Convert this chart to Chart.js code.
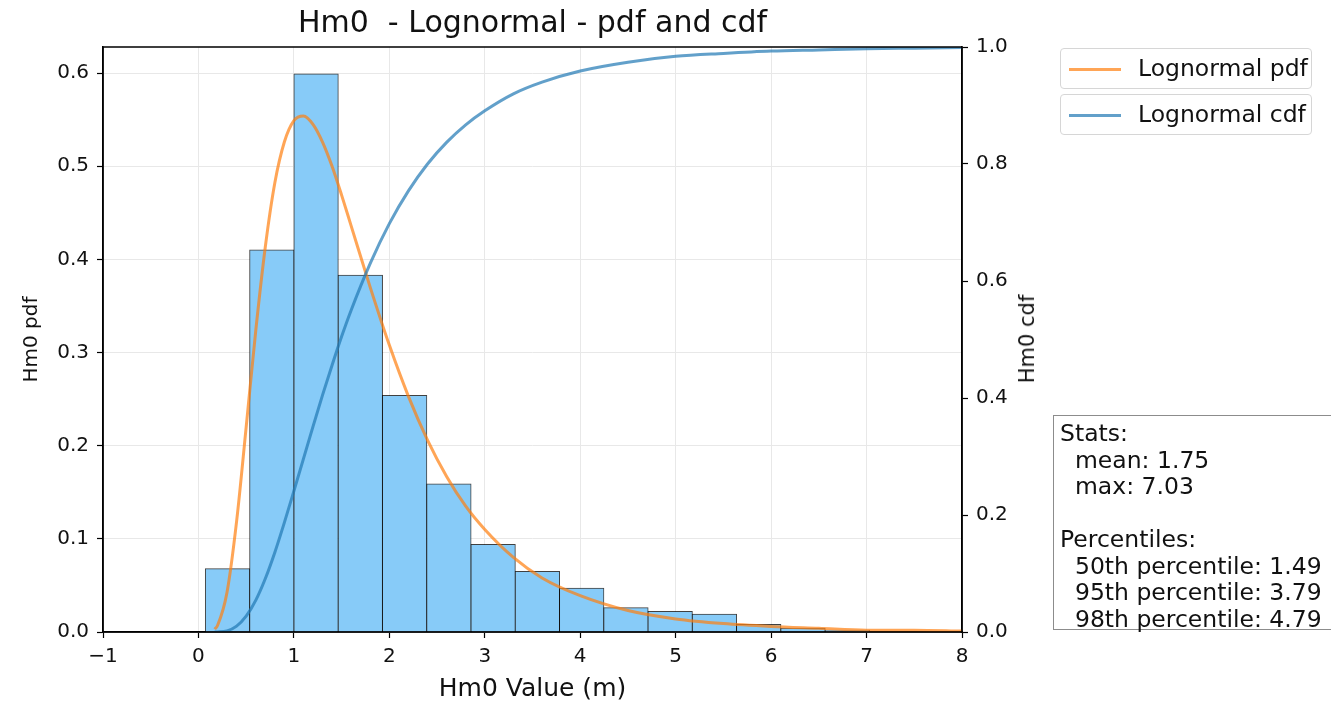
<!DOCTYPE html>
<html lang="en">
<head>
<meta charset="UTF-8">
<title>Hm0 - Lognormal - pdf and cdf</title>
<script src="https://cdn.jsdelivr.net/npm/chart.js"></script>
<style>
    body {
        margin: 0;
        padding: 0;
        background: #fff;
        font-family: "DejaVu Sans", sans-serif;
        overflow: hidden;
    }
    .wrap {
        position: relative;
        width: 1331px;
        height: 705px;
        overflow: hidden;
    }
    .legend-box {
        position: absolute;
        left: 1060px;
        width: 252px;
        height: 41px;
        border: 1px solid #d6d6d6;
        border-radius: 4px;
        background: rgba(255, 255, 255, 0.8);
        box-sizing: border-box;
    }
    .legend-line {
        position: absolute;
        left: 8px;
        top: 19px;
        width: 52px;
        height: 3px;
    }
    .legend-text {
        position: absolute;
        left: 77px;
        top: 4px;
        font-size: 23.5px;
        line-height: 30px;
        color: #111;
        white-space: nowrap;
    }
    .stats {
        position: absolute;
        left: 1053px;
        top: 415px;
        width: 300px;
        height: 215px;
        border: 1.5px solid #8c8c8c;
        box-sizing: border-box;
        padding: 4px 0 0 6px;
        font-size: 23.5px;
        line-height: 26.5px;
        color: #111;
        white-space: pre;
    }
    .y2-title {
        position: absolute;
        left: 1027px;
        top: 339px;
        transform: translate(-50%, -50%) rotate(-90deg);
        font-size: 21px;
        color: #111;
        white-space: nowrap;
    }
</style>
</head>
<body>
<div class="wrap">
    <canvas id="chart" width="1331" height="705"></canvas>

    <div class="legend-box" style="top: 48px;">
        <div class="legend-line" style="background: rgba(255,127,14,0.7);"></div>
        <div class="legend-text">Lognormal pdf</div>
    </div>
    <div class="legend-box" style="top: 94px;">
        <div class="legend-line" style="background: rgba(31,119,180,0.7);"></div>
        <div class="legend-text">Lognormal cdf</div>
    </div>

    <div class="y2-title">Hm0 cdf</div>

    <div class="stats" id="stats"></div>
</div>

<script>
    // histogram (bin edges in m, density values)
    const binEdges = [0.073, 0.537, 1.001, 1.464, 1.928, 2.392, 2.856, 3.319, 3.783, 4.247, 4.711, 5.174, 5.638, 6.102, 6.566, 7.03];
    const binHeights = [0.068, 0.410, 0.599, 0.383, 0.254, 0.159, 0.094, 0.065, 0.047, 0.026, 0.022, 0.019, 0.008, 0.004, 0.002];

    // fitted lognormal curves
    const curveX = [0.17, 0.2, 0.3, 0.4, 0.5, 0.6, 0.7, 0.8, 0.9, 1.0, 1.1, 1.2, 1.3, 1.4, 1.5, 1.6, 1.8, 2.0, 2.2, 2.4, 2.6, 2.8, 3.0, 3.3, 3.6, 4.0, 4.5, 5.0, 5.5, 6.0, 6.5, 7.0, 7.5, 8.0];
    const pdfValues = [0.003, 0.007, 0.043, 0.119, 0.220, 0.323, 0.413, 0.482, 0.526, 0.549, 0.554, 0.545, 0.526, 0.500, 0.469, 0.436, 0.370, 0.308, 0.253, 0.206, 0.167, 0.135, 0.110, 0.080, 0.058, 0.039, 0.023, 0.014, 0.009, 0.006, 0.004, 0.002, 0.002, 0.001];
    const cdfValues = [0.0001, 0.0002, 0.002, 0.010, 0.027, 0.054, 0.091, 0.136, 0.187, 0.241, 0.296, 0.351, 0.405, 0.456, 0.505, 0.550, 0.630, 0.698, 0.754, 0.800, 0.837, 0.867, 0.891, 0.920, 0.940, 0.959, 0.974, 0.984, 0.989, 0.993, 0.995, 0.997, 0.998, 0.999];

    const statsLines = [
        "Stats:",
        "  mean: 1.75",
        "  max: 7.03",
        "",
        "Percentiles:",
        "  50th percentile: 1.49",
        "  95th percentile: 3.79",
        "  98th percentile: 4.79"
    ];

    document.getElementById("stats").textContent = statsLines.join("\n");

    let histData = binHeights.map((h, i) => ({ x: (binEdges[i] + binEdges[i + 1]) / 2, y: h }));
    let pdfData = curveX.map((x, i) => ({ x: x, y: pdfValues[i] }));
    let cdfData = curveX.map((x, i) => ({ x: x, y: cdfValues[i] }));

    // matplotlib style closed frame
    const frame = {
        id: 'frame',
        afterDatasetsDraw(chart) {
            const a = chart.chartArea;
            const ctx = chart.ctx;
            ctx.save();
            ctx.strokeStyle = '#000';
            ctx.lineWidth = 1.5;
            ctx.strokeRect(a.left, a.top, a.right - a.left, a.bottom - a.top);
            ctx.restore();
        }
    };

    const tickFont = { family: 'DejaVu Sans', size: 20 };

    new Chart(document.getElementById('chart'), {
        type: 'bar',
        data: {
            datasets: [
                {
                    type: 'line',
                    label: 'Lognormal cdf',
                    data: cdfData,
                    yAxisID: 'y2',
                    borderColor: 'rgba(31,119,180,0.7)',
                    borderWidth: 3,
                    pointRadius: 0,
                    cubicInterpolationMode: 'monotone',
                    order: 1
                },
                {
                    type: 'line',
                    label: 'Lognormal pdf',
                    data: pdfData,
                    yAxisID: 'y',
                    borderColor: 'rgba(255,127,14,0.7)',
                    borderWidth: 3,
                    pointRadius: 0,
                    cubicInterpolationMode: 'monotone',
                    order: 2
                },
                {
                    type: 'bar',
                    label: 'Hm0',
                    data: histData,
                    yAxisID: 'y',
                    backgroundColor: '#87cbf8',
                    borderColor: 'rgba(0,0,0,0.75)',
                    borderWidth: 1,
                    inflateAmount: 0.5,
                    barThickness: 'flex',
                    barPercentage: 1,
                    categoryPercentage: 1,
                    order: 3
                }
            ]
        },
        options: {
            responsive: false,
            animation: false,
            layout: { padding: { left: 0, right: 309, top: 0, bottom: 0 } },
            plugins: {
                legend: { display: false },
                tooltip: { enabled: false },
                title: {
                    display: true,
                    text: 'Hm0  - Lognormal - pdf and cdf',
                    fullSize: false,
                    color: '#111',
                    font: { family: 'DejaVu Sans', size: 30, weight: 'normal' },
                    padding: { top: 6, bottom: 5 }
                }
            },
            scales: {
                x: {
                    type: 'linear',
                    min: -1,
                    max: 8,
                    offset: false,
                    afterFit: s => { s.height = 73; },
                    ticks: {
                        stepSize: 1,
                        color: '#111',
                        font: tickFont,
                        padding: 7,
                        callback: v => v < 0 ? '\u2212' + Math.abs(v) : String(v)
                    },
                    grid: { color: '#e8e8e8', offset: false, tickColor: '#000', tickLength: 6, tickWidth: 1.2 },
                    border: { color: '#000', width: 1.5 },
                    title: {
                        display: true,
                        text: 'Hm0 Value (m)',
                        color: '#111',
                        font: { family: 'DejaVu Sans', size: 25 },
                        padding: { top: 0, bottom: 1 }
                    }
                },
                y: {
                    position: 'left',
                    min: 0,
                    max: 0.628,
                    afterFit: s => { s.width = 103; },
                    ticks: {
                        stepSize: 0.1,
                        includeBounds: false,
                        color: '#111',
                        font: tickFont,
                        padding: 8,
                        callback: v => v.toFixed(1)
                    },
                    grid: { color: '#e8e8e8', tickColor: '#000', tickLength: 6, tickWidth: 1.2 },
                    border: { color: '#000', width: 1.5 },
                    title: {
                        display: true,
                        text: 'Hm0 pdf',
                        color: '#111',
                        font: { family: 'DejaVu Sans', size: 20 },
                        padding: { top: 20, bottom: 0 }
                    }
                },
                y2: {
                    position: 'right',
                    min: 0,
                    max: 1,
                    afterFit: s => { s.width = 60; },
                    ticks: {
                        stepSize: 0.2,
                        color: '#111',
                        font: tickFont,
                        padding: 8,
                        callback: v => v.toFixed(1)
                    },
                    grid: { drawOnChartArea: false, tickColor: '#000', tickLength: 6, tickWidth: 1.2 },
                    border: { color: '#000', width: 1.5 }
                }
            }
        },
        plugins: [frame]
    });
</script>
</body>
</html>
